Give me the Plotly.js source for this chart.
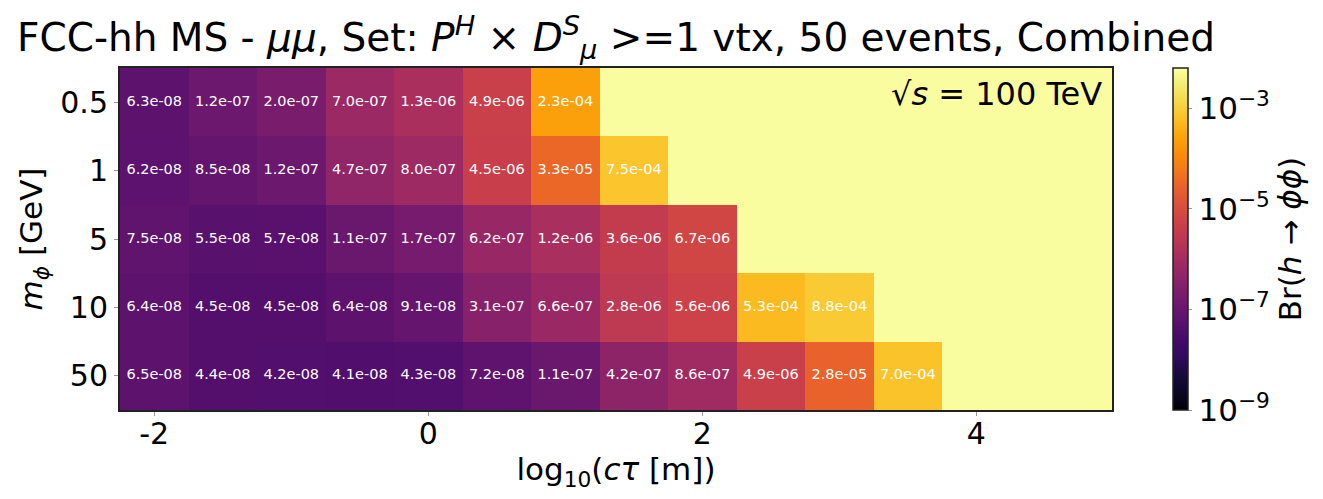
<!DOCTYPE html>
<html>
<head>
<meta charset="utf-8">
<script src="https://cdn.plot.ly/plotly-3.0.1.min.js"></script>
<style>html,body{margin:0;padding:0;background:#fff;}#plot{width:1323px;height:499px;}</style>
</head>
<body>
<div id="plot"></div>
<script>
// log10(c*tau [m]) column centres
const logCtau = [-2, -1.5, -1, -0.5, 0, 0.5, 1, 1.5, 2, 2.5, 3, 3.5];
// m_phi [GeV] row labels (top to bottom)
const massLabels = ['0.5', '1', '5', '10', '50'];
// Br(h -> phi phi) limits per mass row; null = no cell drawn (saturated region)
const br_m0p5 = [6.3e-08, 1.2e-07, 2.0e-07, 7.0e-07, 1.3e-06, 4.9e-06, 2.3e-04, null, null, null, null, null];
const br_m1   = [6.2e-08, 8.5e-08, 1.2e-07, 4.7e-07, 8.0e-07, 4.5e-06, 3.3e-05, 7.5e-04, null, null, null, null];
const br_m5   = [7.5e-08, 5.5e-08, 5.7e-08, 1.1e-07, 1.7e-07, 6.2e-07, 1.2e-06, 3.6e-06, 6.7e-06, null, null, null];
const br_m10  = [6.4e-08, 4.5e-08, 4.5e-08, 6.4e-08, 9.1e-08, 3.1e-07, 6.6e-07, 2.8e-06, 5.6e-06, 5.3e-04, 8.8e-04, null];
const br_m50  = [6.5e-08, 4.4e-08, 4.2e-08, 4.1e-08, 4.3e-08, 7.2e-08, 1.1e-07, 4.2e-07, 8.6e-07, 4.9e-06, 2.8e-05, 7.0e-04];
const xTickVals = [-2, 0, 2, 4];
const cbTickExp = [-9, -7, -5, -3];

const rows = [br_m0p5, br_m1, br_m5, br_m10, br_m50];
const zLog = rows.map(r => r.map(v => v === null ? null : Math.log10(v)));
function fmt(v) {
  return v.toExponential(1).replace(/e([+-])(\d)$/, 'e$10$2');
}
// cell labels only where a value exists
const lx = [], ly = [], lt = [];
rows.forEach((r, i) => r.forEach((v, j) => {
  if (v !== null) { lx.push(logCtau[j]); ly.push(massLabels[i]); lt.push(fmt(v)); }
}));

const inferno = [
  [0.00, '#000004'], [0.05, '#0b0724'], [0.10, '#160b39'], [0.15, '#2f0a5b'],
  [0.20, '#420a68'], [0.25, '#57106e'], [0.30, '#6a176e'], [0.35, '#7f1e6c'],
  [0.40, '#932667'], [0.45, '#a82e5f'], [0.50, '#bc3754'], [0.55, '#cc4248'],
  [0.60, '#dd513a'], [0.65, '#e8602d'], [0.70, '#f37819'], [0.75, '#f98e09'],
  [0.80, '#fca50a'], [0.85, '#fbbe23'], [0.90, '#f6d746'], [0.95, '#f1ed71'],
  [1.00, '#fcffa4']
];

const FONT = 'DejaVu Sans, Liberation Sans, sans-serif';

const heat = {
  type: 'heatmap',
  x: logCtau,
  y: massLabels,
  z: zLog,
  colorscale: inferno,
  zmin: -9,
  zmax: -2.2,
  hoverongaps: false,
  xgap: 0, ygap: 0,
  colorbar: {
    x: 1.0615, xanchor: 'left', xref: 'paper', xpad: 0,
    y: 0.5, yanchor: 'middle', ypad: 0,
    len: 1, lenmode: 'fraction',
    thickness: 15,
    outlinewidth: 1.5, outlinecolor: '#222',
    tickmode: 'array',
    tickvals: cbTickExp,
    ticktext: cbTickExp.map(e => '10<sup>\u2212' + Math.abs(e) + '</sup>'),
    ticks: 'outside', ticklen: 4, tickcolor: '#999',
    tickfont: {family: FONT, size: 31, color: '#000'},
    title: {text: 'Br(<i>h</i> \u2192 <i>\u03d5\u03d5</i>)', side: 'right',
            font: {family: FONT, size: 31, color: '#000'}}
  }
};

const labels = {
  type: 'scatter', mode: 'text',
  x: lx, y: ly, text: lt,
  textposition: 'middle center',
  textfont: {family: FONT, size: 14.5, color: '#ffffff'},
  hoverinfo: 'skip', showlegend: false
};

const layout = {
  width: 1323, height: 499,
  margin: {l: 120, r: 211, t: 68, b: 89, autoexpand: false},
  paper_bgcolor: '#ffffff',
  plot_bgcolor: '#fafca0',
  font: {family: FONT, color: '#000'},
  showlegend: false,
  title: {
    text: 'FCC-hh MS - <i>\u03bc\u03bc</i>, Set: <i>P</i><sup><i>H</i></sup> \u00d7 <i>D</i><sup><i>S</i></sup><sub><i>\u03bc</i></sub> &gt;=1 vtx, 50 events, Combined',
    font: {family: FONT, size: 39, color: '#000'},
    x: 0.5, xref: 'paper', xanchor: 'center',
    y: 0.925, yref: 'container', yanchor: 'middle'
  },
  xaxis: {
    range: [-2.25, 4.99],
    tickmode: 'array', tickvals: xTickVals, ticktext: xTickVals.map(String),
    ticks: 'outside', ticklen: 4, tickcolor: '#999',
    ticklabelposition: 'outside',
    ticklabelstandoff: -8,
    tickfont: {family: FONT, size: 30, color: '#000'},
    showgrid: false, zeroline: false,
    showline: true, linecolor: '#222', linewidth: 2, mirror: true,
    title: {text: 'log<sub>10</sub>(<i>c\u03c4</i> [m])', font: {family: FONT, size: 31, color: '#000'}, standoff: 0}
  },
  yaxis: {
    type: 'category',
    autorange: 'reversed',
    ticks: 'outside', ticklen: 4, tickcolor: '#999',
    tickfont: {family: FONT, size: 30, color: '#000'},
    showgrid: false, zeroline: false,
    showline: true, linecolor: '#222', linewidth: 2, mirror: true,
    title: {text: '<i>m</i><sub><i>\u03d5</i></sub> [GeV]', font: {family: FONT, size: 31, color: '#000'}, standoff: 8}
  },
  annotations: [{
    text: '\u221a<i>s</i> = 100 TeV',
    xref: 'paper', yref: 'paper', x: 0.992, y: 0.985,
    xanchor: 'right', yanchor: 'top', showarrow: false,
    font: {family: FONT, size: 32, color: '#000'}
  }]
};

Plotly.newPlot('plot', [heat, labels], layout, {displayModeBar: false, staticPlot: true});
</script>
</body>
</html>
